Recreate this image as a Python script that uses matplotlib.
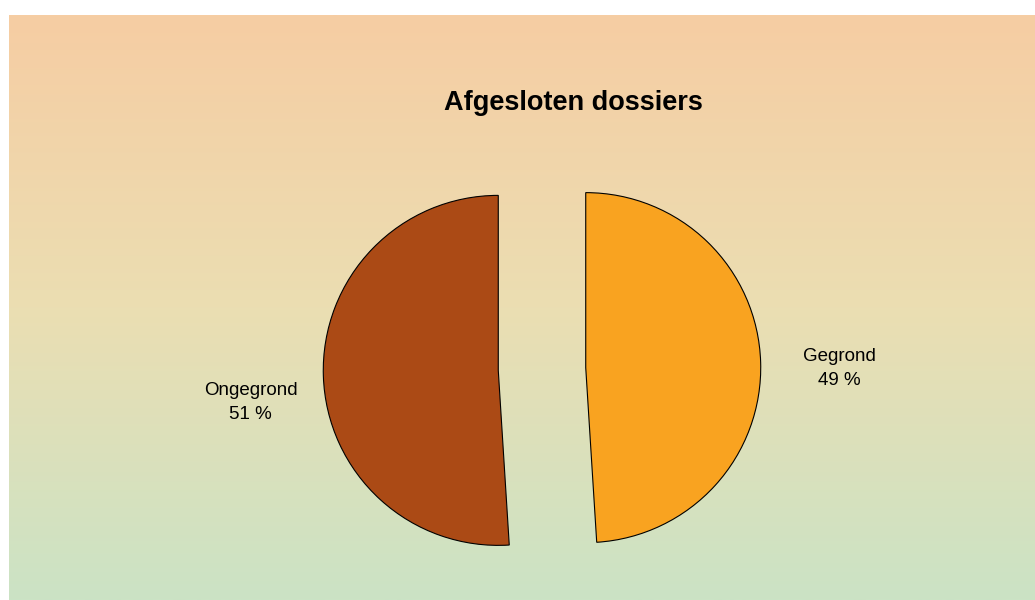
import numpy as np
import matplotlib
matplotlib.use("Agg")
import matplotlib.pyplot as plt
from matplotlib.colors import LinearSegmentedColormap

plt.rcParams['font.family'] = ['Liberation Sans', 'DejaVu Sans']

# data
categories = ["Gegrond", "Ongegrond"]
shares = [49, 51]
colors = ["#F9A320", "#AB4A15"]
title = "Afgesloten dossiers"

W, H = 1035, 600
fig = plt.figure(figsize=(W / 100, H / 100), dpi=100)
fig.patch.set_facecolor("white")

# gradient background panel
bg = fig.add_axes([9 / W, 0, 1 - 9 / W, 1 - 15 / H])
cmap = LinearSegmentedColormap.from_list("bg", ["#F6CDA3", "#EBDEB2", "#CBE3C5"])
grad = np.linspace(0, 1, 256).reshape(-1, 1)
bg.imshow(grad, aspect="auto", cmap=cmap, extent=[0, 1, 0, 1], origin="upper")
bg.axis("off")

# pie axes, square 600x600 px centred on pie centre
cx, cy, R = 542, 231, 175
half = 300
ax = fig.add_axes([(cx - half) / W, (cy - half) / H, 2 * half / W, 2 * half / H])
wedges, texts = ax.pie(shares, labels=[f"{c}\n{s} %" for c, s in zip(categories, shares)],
                       colors=colors, startangle=90, counterclock=False,
                       explode=[0.25, 0.25], labeldistance=1.43,
                       wedgeprops=dict(edgecolor="black", linewidth=0.8),
                       textprops=dict(fontsize=13.5, color="black", linespacing=1.55))
for t in texts:
    t.set_ha("center")
    t.set_va("center")
    t.set_multialignment("center")
# excel-like label nudges (in radius units)
x0, y0 = texts[0].get_position()
texts[0].set_position((x0 + 0.02, y0 - 0.05))
x1, y1 = texts[1].get_position()
texts[1].set_position((x1 + 0.015, y1 - 0.14))
s = half / R
ax.set_xlim(-s, s)
ax.set_ylim(-s, s)
ax.axis("off")

fig.text(573.5 / W, 1 - 103 / H, title, ha="center", va="center",
         fontsize=19.5, fontweight="bold")

fig.savefig("out.png", dpi=100, facecolor=fig.get_facecolor())
